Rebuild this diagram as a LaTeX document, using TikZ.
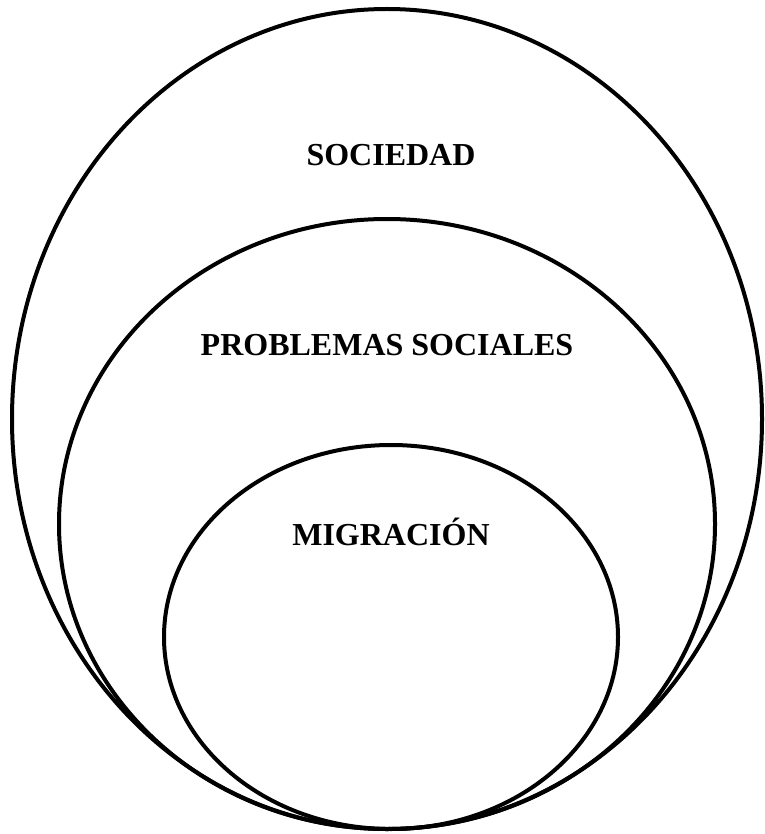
\documentclass[tikz,border=0pt]{standalone}
\usepackage{fontspec}
\setmainfont{Liberation Serif}
\tikzset{
  contorno/.style={line width=4pt, black},
  etiqueta/.style={anchor=base, font=\fontsize{32}{38}\selectfont\bfseries}
}
\begin{document}
\begin{tikzpicture}[x=1pt, y=-1pt]
    % Marco con las proporciones de la figura
    \useasboundingbox (0,0) rectangle (764,834);

    % Conjunto mayor: la sociedad
    \draw[contorno] (387,419) ellipse [x radius=375, y radius=410];
    \node[etiqueta] (sociedad) at (391,166) {SOCIEDAD};

    % Conjunto intermedio: problemas sociales
    \draw[contorno] (387,524) ellipse [x radius=328, y radius=305];
    \node[etiqueta] (problemas) at (387,355) {PROBLEMAS SOCIALES};

    % Conjunto menor: la migración
    \draw[contorno] (391,637) ellipse [x radius=227, y radius=192];
    \node[etiqueta] (migracion) at (391,545) {MIGRACIÓN};
\end{tikzpicture}
\end{document}
